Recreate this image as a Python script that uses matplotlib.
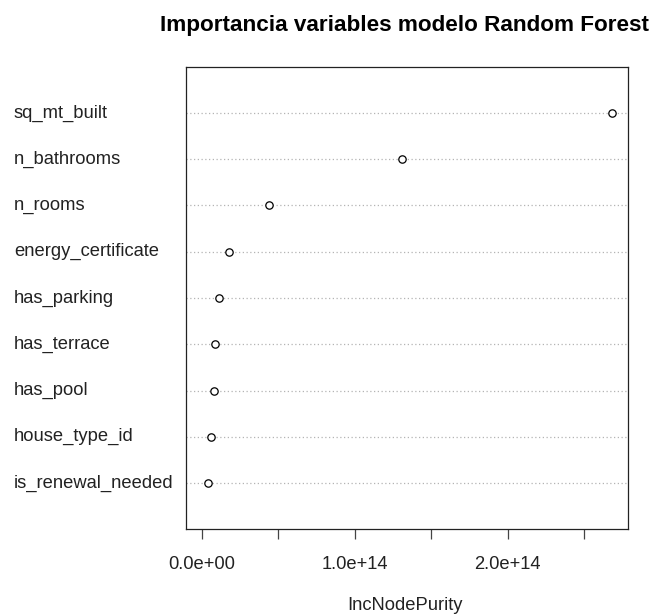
import matplotlib.pyplot as plt

# importancia de variables (IncNodePurity), de menor a mayor
variables = ['is_renewal_needed', 'house_type_id', 'has_pool', 'has_terrace',
             'has_parking', 'energy_certificate', 'n_rooms', 'n_bathrooms',
             'sq_mt_built']
inc_node_purity = [0.039e14, 0.059e14, 0.077e14, 0.087e14, 0.113e14,
                   0.176e14, 0.435e14, 1.305e14, 2.68e14]

x_ticks = [0, 0.5e14, 1.0e14, 1.5e14, 2.0e14, 2.5e14]
x_tick_labels = ['0.0e+00', '', '1.0e+14', '', '2.0e+14', '']

plt.rcParams['font.family'] = ['Liberation Sans', 'DejaVu Sans']

W, H = 655, 616
fig = plt.figure(figsize=(W / 100, H / 100), dpi=100)
ax = fig.add_axes([185.7 / W, 1 - 529.3 / H, (628 - 185.7) / W, (529.3 - 66.7) / H])

ypos = list(range(1, len(variables) + 1))
for y in ypos:
    ax.axhline(y, color='#b4b4b4', linestyle=(0, (1, 2)), linewidth=0.9, zorder=1)
ax.plot(inc_node_purity, ypos, linestyle='none', marker='o', markersize=5.3,
        markerfacecolor='white', markeredgecolor='black', markeredgewidth=0.9,
        zorder=3)

# limites como en dotchart: xlim c(0, max) con 4% de margen
xmax = max(inc_node_purity)
pad = 0.04 * xmax
ax.set_xlim(-pad, xmax + pad)
ax.set_ylim(0, len(variables) + 1)

ax.set_yticks([])
ax.set_xticks(x_ticks)
ax.set_xticklabels(x_tick_labels, fontsize=13.2, color='#222222')
ax.tick_params(axis='x', length=7.5, width=0.9, color='#444444', pad=12)
for s in ax.spines.values():
    s.set_linewidth(0.9)
    s.set_color('#222222')

# etiquetas alineadas a la izquierda en el margen
for name, y in zip(variables, ypos):
    disp = ax.transData.transform((0, y))
    fy = disp[1] / H
    fig.text(14 / W, fy, name, fontsize=13.2, ha='left', va='center', color='#222222')

fig.text(405 / W, 1 - 25 / H, 'Importancia variables modelo Random Forest',
         fontsize=16.2, fontweight='bold', ha='center', va='center')
fig.text(405 / W, 1 - 606 / H, 'IncNodePurity', fontsize=13.2, ha='center',
         va='center', color='#222222')

fig.savefig('out.png', dpi=100)
